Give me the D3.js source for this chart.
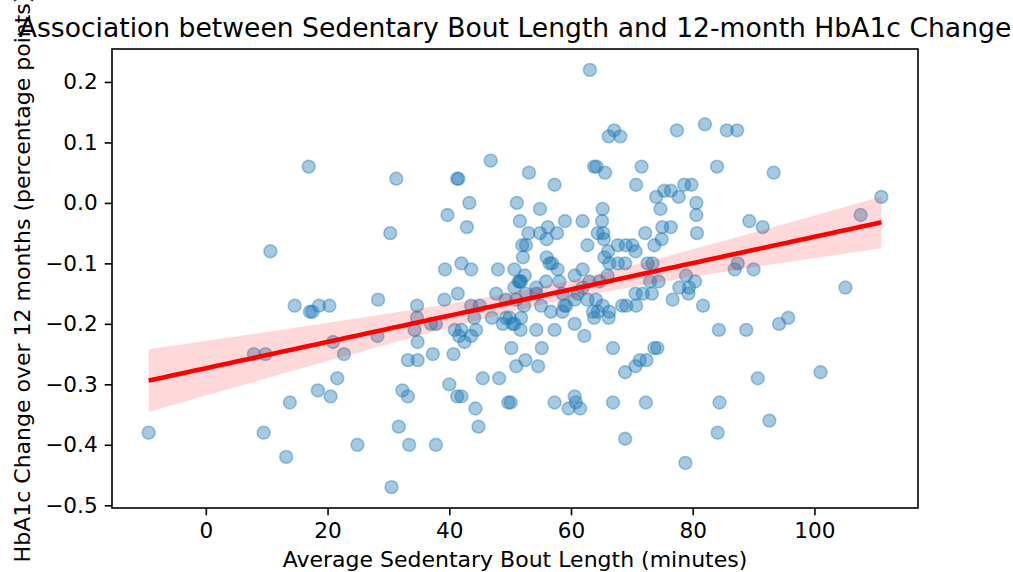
<!DOCTYPE html>
<html>
<head>
<meta charset="utf-8">
<script src="https://cdn.jsdelivr.net/npm/d3@7"></script>
<style>
  body { margin: 0; background: white; }
  text { font-family: "DejaVu Sans", sans-serif; fill: black; }
</style>
</head>
<body>
<div id="chart"></div>
<script>
// average sedentary bout length (minutes), one entry per participant
const boutLength = [
  63.1,
  82.0,
  67.1, 77.4, 85.6, 87.3,
  66.2, 68.1,
  46.8,
  16.9, 63.8, 64.2, 71.6, 84.0,
  53.1, 65.6, 93.3,
  31.3, 41.3, 41.5,
  57.3, 70.7, 78.6, 79.8,
  75.3, 76.4,
  74.0, 77.7, 111.0,
  43.3, 51.1, 80.6,
  54.9, 65.2, 74.7,
  39.7, 80.6, 107.6,
  51.6, 59.0, 61.9, 65.1, 89.3,
  42.9, 56.2, 75.0, 76.4, 91.5,
  30.3, 53.0, 54.9, 57.7, 64.4, 65.3, 72.2, 80.7,
  56.0, 65.4, 74.9,
  52.0, 52.6, 62.7, 67.7, 69.0, 70.1, 73.7,
  10.6, 66.1, 70.6,
  52.1, 56.0, 65.5,
  42.0, 56.5, 56.9, 66.3, 67.7, 68.9, 72.6, 73.4, 87.4,
  39.3, 43.6, 48.0, 50.7, 57.8, 61.9, 86.9, 90.0,
  52.4, 60.6, 66.0, 78.9,
  51.4, 51.6, 51.8, 55.9, 58.1, 63.0, 64.7, 73.0, 74.4, 80.4,
  50.7, 54.3, 61.9, 77.8, 79.4, 105.1,
  41.4, 47.7, 52.6, 54.3, 58.6, 61.1, 70.6, 71.8, 73.3, 79.3,
  28.3, 39.2, 49.3, 51.0, 60.6, 62.7, 64.1, 76.7,
  14.6, 18.6, 20.3, 34.7, 43.6, 45.0, 52.3, 55.1, 58.9, 59.2, 65.2, 68.4, 69.1, 70.7, 81.7,
  17.1, 17.5, 56.7, 58.6, 63.6, 64.4, 66.3,
  34.7, 44.1, 47.0, 49.3, 49.9, 51.8, 63.8, 66.2, 95.7,
  37.0, 37.8, 48.8, 50.4, 50.7, 60.6, 94.2,
  34.3, 40.9, 42.0, 44.4, 51.7, 54.3, 57.3, 84.3, 88.8,
  28.2, 41.6, 43.6, 62.2,
  20.9, 34.8, 42.5,
  50.2, 55.2, 66.9, 73.7, 74.2,
  7.9, 9.8, 22.7, 37.3, 40.7,
  33.2, 34.8, 52.5, 71.3, 72.4,
  51.0, 54.6, 70.6,
  68.9, 101.0,
  21.6, 45.5, 48.2, 90.7,
  40.0,
  18.4, 32.3,
  20.5, 33.2, 41.3, 42.0, 60.6,
  13.8, 49.7, 50.1, 57.3, 60.8, 66.9, 72.3, 84.4,
  44.3, 59.6, 61.5,
  92.6,
  31.7, 44.8,
  -9.4, 9.5, 84.1,
  68.9,
  24.9, 33.4, 37.8,
  13.2,
  78.8,
  30.5
];

// 12-month HbA1c change (percentage points), same order as boutLength
const hba1cChange = [
  0.22,
  0.13,
  0.12, 0.12, 0.12, 0.12,
  0.11, 0.11,
  0.07,
  0.06, 0.06, 0.06, 0.06, 0.06,
  0.05, 0.05, 0.05,
  0.04, 0.04, 0.04,
  0.03, 0.03, 0.03, 0.03,
  0.02, 0.02,
  0.01, 0.01, 0.01,
  0.00, 0.00, 0.00,
  -0.01, -0.01, -0.01,
  -0.02, -0.02, -0.02,
  -0.03, -0.03, -0.03, -0.03, -0.03,
  -0.04, -0.04, -0.04, -0.04, -0.04,
  -0.05, -0.05, -0.05, -0.05, -0.05, -0.05, -0.05, -0.05,
  -0.06, -0.06, -0.06,
  -0.07, -0.07, -0.07, -0.07, -0.07, -0.07, -0.07,
  -0.08, -0.08, -0.08,
  -0.09, -0.09, -0.09,
  -0.10, -0.10, -0.10, -0.10, -0.10, -0.10, -0.10, -0.10, -0.10,
  -0.11, -0.11, -0.11, -0.11, -0.11, -0.11, -0.11, -0.11,
  -0.12, -0.12, -0.12, -0.12,
  -0.13, -0.13, -0.13, -0.13, -0.13, -0.13, -0.13, -0.13, -0.13, -0.13,
  -0.14, -0.14, -0.14, -0.14, -0.14, -0.14,
  -0.15, -0.15, -0.15, -0.15, -0.15, -0.15, -0.15, -0.15, -0.15, -0.15,
  -0.16, -0.16, -0.16, -0.16, -0.16, -0.16, -0.16, -0.16,
  -0.17, -0.17, -0.17, -0.17, -0.17, -0.17, -0.17, -0.17, -0.17, -0.17, -0.17, -0.17, -0.17, -0.17, -0.17,
  -0.18, -0.18, -0.18, -0.18, -0.18, -0.18, -0.18,
  -0.19, -0.19, -0.19, -0.19, -0.19, -0.19, -0.19, -0.19, -0.19,
  -0.20, -0.20, -0.20, -0.20, -0.20, -0.20, -0.20,
  -0.21, -0.21, -0.21, -0.21, -0.21, -0.21, -0.21, -0.21, -0.21,
  -0.22, -0.22, -0.22, -0.22,
  -0.23, -0.23, -0.23,
  -0.24, -0.24, -0.24, -0.24, -0.24,
  -0.25, -0.25, -0.25, -0.25, -0.25,
  -0.26, -0.26, -0.26, -0.26, -0.26,
  -0.27, -0.27, -0.27,
  -0.28, -0.28,
  -0.29, -0.29, -0.29, -0.29,
  -0.30,
  -0.31, -0.31,
  -0.32, -0.32, -0.32, -0.32, -0.32,
  -0.33, -0.33, -0.33, -0.33, -0.33, -0.33, -0.33, -0.33,
  -0.34, -0.34, -0.34,
  -0.36,
  -0.37, -0.37,
  -0.38, -0.38, -0.38,
  -0.39,
  -0.40, -0.40, -0.40,
  -0.42,
  -0.43,
  -0.47
];

const xTicks = [0, 20, 40, 60, 80, 100];
const yTicks = [-0.5, -0.4, -0.3, -0.2, -0.1, 0.0, 0.1, 0.2];

const titleText = "Association between Sedentary Bout Length and 12-month HbA1c Change";
const xLabel = "Average Sedentary Bout Length (minutes)";
const yLabel = "HbA1c Change over 12 months (percentage points)";

//margin convention
const W = 1013, H = 572;
const margin = ({ top: 49, right: 95, bottom: 64, left: 112 });
const width = W - margin.left - margin.right,
    height = H - margin.top - margin.bottom;

const points = boutLength.map((x, i) => ({ x: x, y: hba1cChange[i] }));

const svg = d3.select("#chart").append("svg")
    .attr("width", W)
    .attr("height", H);

svg.append("rect").attr("width", W).attr("height", H).attr("fill", "white");

const g = svg.append("g")
    .attr("transform", "translate(" + margin.left + "," + margin.top + ")");

// matplotlib style 5% padding around the data
function padded(ext) {
    const pad = (ext[1] - ext[0]) * 0.05;
    return [ext[0] - pad, ext[1] + pad];
}
const xExt = d3.extent(points, d => d.x);
const yExt = d3.extent(points, d => d.y);

const x = d3.scaleLinear().domain(padded(xExt)).range([0, width]);
const y = d3.scaleLinear().domain(padded(yExt)).range([height, 0]);

// scatter
g.append("g")
    .selectAll("circle")
    .data(points)
    .join("circle")
    .attr("cx", d => x(d.x))
    .attr("cy", d => y(d.y))
    .attr("r", 6.4)
    .attr("fill", "#1f77b4")
    .attr("fill-opacity", 0.4)
    .attr("stroke", "#1f77b4")
    .attr("stroke-opacity", 0.4)
    .attr("stroke-width", 1.6);

// least squares fit + 95% band for the mean
const n = points.length;
const mx = d3.mean(points, d => d.x), my = d3.mean(points, d => d.y);
const sxx = d3.sum(points, d => (d.x - mx) * (d.x - mx));
const sxy = d3.sum(points, d => (d.x - mx) * (d.y - my));
const slope = sxy / sxx, intercept = my - slope * mx;
const sse = d3.sum(points, d => Math.pow(d.y - (intercept + slope * d.x), 2));
const s = Math.sqrt(sse / (n - 2));
const tcrit = 1.97;

const grid = d3.range(101).map(i => xExt[0] + (xExt[1] - xExt[0]) * i / 100);
const fit = grid.map(gx => {
    const yh = intercept + slope * gx;
    const se = s * Math.sqrt(1 / n + (gx - mx) * (gx - mx) / sxx);
    return { x: gx, y: yh, lo: yh - tcrit * se, hi: yh + tcrit * se };
});

g.append("path")
    .datum(fit)
    .attr("fill", "red")
    .attr("fill-opacity", 0.15)
    .attr("d", d3.area().x(d => x(d.x)).y0(d => y(d.lo)).y1(d => y(d.hi)));

g.append("path")
    .datum(fit)
    .attr("fill", "none")
    .attr("stroke", "red")
    .attr("stroke-width", 4.6)
    .attr("d", d3.line().x(d => x(d.x)).y(d => y(d.y)));

// axes
const fmtY = d3.format(".1f");
const xAxis = g.append("g")
    .attr("transform", "translate(0," + height + ")")
    .call(d3.axisBottom(x).tickValues(xTicks).tickSize(7.3).tickPadding(7).tickSizeOuter(0));
const yAxis = g.append("g")
    .call(d3.axisLeft(y).tickValues(yTicks).tickFormat(fmtY).tickSize(7.3).tickPadding(7).tickSizeOuter(0));

[xAxis, yAxis].forEach(a => {
    a.select(".domain").remove();
    a.selectAll(".tick line").attr("stroke", "black").attr("stroke-width", 1.6);
    a.selectAll(".tick text")
        .attr("font-family", "DejaVu Sans")
        .attr("font-size", 21.6)
        .attr("fill", "black");
});

// frame
g.append("rect")
    .attr("width", width)
    .attr("height", height)
    .attr("fill", "none")
    .attr("stroke", "black")
    .attr("stroke-width", 1.6);

// labels
svg.append("text")
    .attr("x", margin.left + width / 2)
    .attr("y", 37)
    .attr("text-anchor", "middle")
    .attr("font-size", 26.6)
    .text(titleText);

svg.append("text")
    .attr("x", margin.left + width / 2)
    .attr("y", 567)
    .attr("text-anchor", "middle")
    .attr("font-size", 22)
    .text(xLabel);

svg.append("text")
    .attr("transform", "translate(30," + (margin.top + height / 2) + ") rotate(-90)")
    .attr("text-anchor", "middle")
    .attr("font-size", 22)
    .text(yLabel);
</script>
</body>
</html>
